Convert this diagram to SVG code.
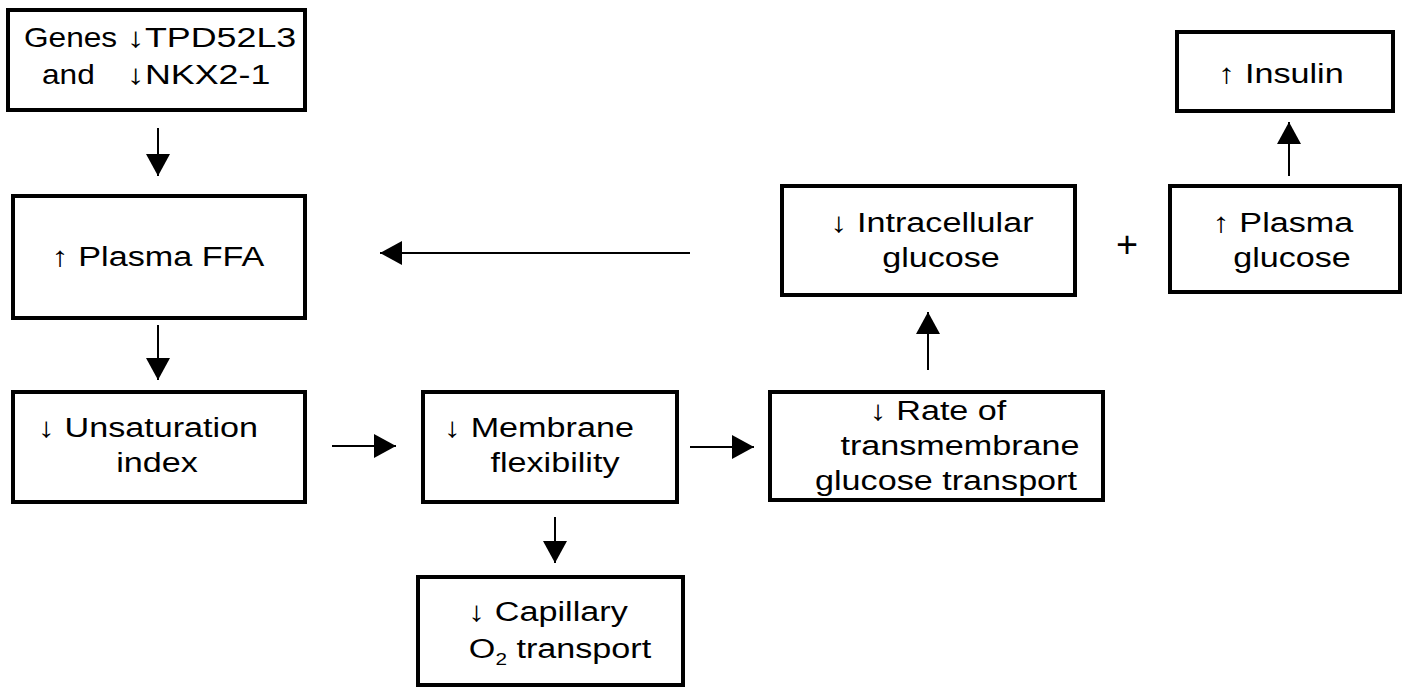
<svg xmlns="http://www.w3.org/2000/svg" width="1414" height="687" viewBox="0 0 1414 687">
<style>
.box{fill:#fff;stroke:#000;stroke-width:4}
.t{font-family:"Liberation Sans",Arial,sans-serif;font-size:28px;fill:#000;text-anchor:middle}
.ts{font-family:"Liberation Sans",Arial,sans-serif;font-size:28px;fill:#000}
.c{stroke:#000;stroke-width:2;fill:none;marker-end:url(#ah)}
</style>
<defs>
<marker id="ah" markerUnits="userSpaceOnUse" viewBox="0 0 22 24" markerWidth="22" markerHeight="24" refX="22" refY="12" orient="auto">
<path d="M0,0 L22,12 L0,24 Z" fill="#000"/>
</marker>
</defs>
<rect width="1414" height="687" fill="#fff"/>
<g id="connectors">
<path class="c" d="M158,128 V176"/>
<path class="c" d="M158,325 V380"/>
<path class="c" d="M332,446 H396"/>
<path class="c" d="M690,447 H754"/>
<path class="c" d="M555,517 V563"/>
<path class="c" d="M928,370 V312"/>
<path class="c" d="M690,253 H380"/>
<path class="c" d="M1289,176 V122"/>
</g>
<g id="genes">
<rect class="box" x="8" y="10" width="297" height="100"/>
<text class="ts" transform="translate(24,47) scale(1.13,1)">Genes</text>
<text class="ts" transform="translate(127,47) scale(1.28,1)">↓TPD52L3</text>
<text class="ts" transform="translate(42,84) scale(1.13,1)">and</text>
<text class="ts" transform="translate(127,84) scale(1.28,1)">↓NKX2-1</text>
</g>
<g id="plasma-ffa">
<rect class="box" x="13" y="196" width="292" height="122"/>
<text class="t" transform="translate(158,266) scale(1.22,1)">↑ Plasma FFA</text>
</g>
<g id="unsaturation">
<rect class="box" x="13" y="392" width="292" height="110"/>
<text class="t" transform="translate(148,437) scale(1.22,1)">↓ Unsaturation</text>
<text class="t" transform="translate(157,472) scale(1.22,1)">index</text>
</g>
<g id="membrane">
<rect class="box" x="423" y="392" width="254" height="110"/>
<text class="t" transform="translate(539,437) scale(1.22,1)">↓ Membrane</text>
<text class="t" transform="translate(555,472) scale(1.22,1)">flexibility</text>
</g>
<g id="rate">
<rect class="box" x="770" y="392" width="333" height="108"/>
<text class="t" transform="translate(938,420) scale(1.22,1)">↓ Rate of</text>
<text class="t" transform="translate(960,455) scale(1.22,1)">transmembrane</text>
<text class="t" transform="translate(946,490) scale(1.22,1)">glucose transport</text>
</g>
<g id="capillary">
<rect class="box" x="418" y="577" width="265" height="108"/>
<text class="t" transform="translate(548,621) scale(1.22,1)">↓ Capillary</text>
<text class="t" transform="translate(560,658) scale(1.22,1)">O<tspan font-size="17" dy="7">2</tspan><tspan dy="-7"> transport</tspan></text>
</g>
<g id="intracellular">
<rect class="box" x="782" y="186" width="293" height="109"/>
<text class="t" transform="translate(932,232) scale(1.22,1)">↓ Intracellular</text>
<text class="t" transform="translate(941,267) scale(1.22,1)">glucose</text>
</g>
<g id="plus">
<text class="t" transform="translate(1127,257) scale(1.05,1)" style="font-size:36px">+</text>
</g>
<g id="plasma-glucose">
<rect class="box" x="1170" y="186" width="230" height="106"/>
<text class="t" transform="translate(1283,232) scale(1.22,1)">↑ Plasma</text>
<text class="t" transform="translate(1292,267) scale(1.22,1)">glucose</text>
</g>
<g id="insulin">
<rect class="box" x="1177" y="32" width="216" height="79"/>
<text class="t" transform="translate(1281,83) scale(1.22,1)">↑ Insulin</text>
</g>
</svg>
